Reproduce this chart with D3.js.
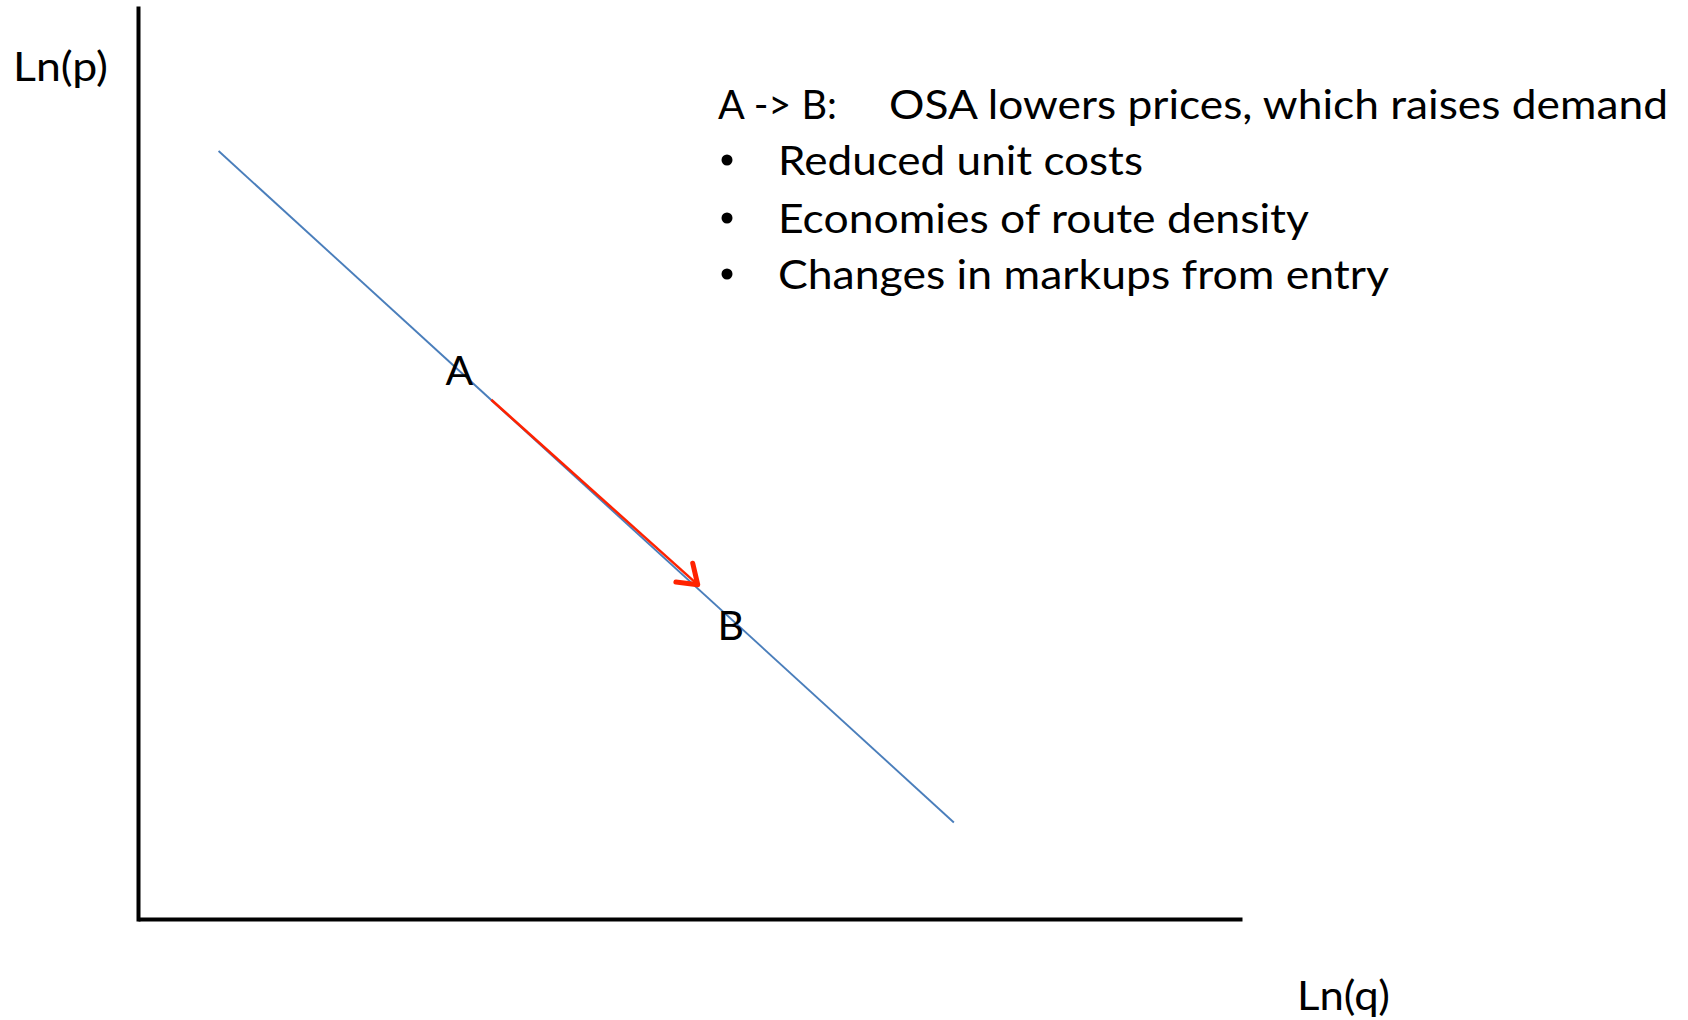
<!DOCTYPE html>
<html>
<head>
<meta charset="utf-8">
<script src="https://cdn.jsdelivr.net/npm/d3@7"></script>
<style>
  html, body { margin: 0; padding: 0; background: #ffffff; }
  svg { display: block; }
  text { font-family: Lato, "Open Sans", sans-serif; fill: #000000; }
</style>
</head>
<body>
<svg id="chart"></svg>
<script>
// values, in axis units (0..10 on both axes)
const demandCurve = [[0.73, 8.43], [7.39, 1.06]];
const movement = [[3.2, 5.7], [5.07, 3.67]];
const pointNames = ["A", "B"];
const pointQ = [2.91, 5.37];
const pointP = [5.86, 3.06];
const axisTitles = ["Ln(q)", "Ln(p)"];
const headerParts = ["A -> B:", "OSA lowers prices, which raises demand"];
const bulletItems = ["Reduced unit costs", "Economies of route density", "Changes in markups from entry"];

const width = 1688;
const height = 1020;
const plot = { left: 138, right: 1242, top: 8, bottom: 919 };

const svg = d3.select("#chart").attr("width", width).attr("height", height);

const x = d3.scaleLinear().domain([0, 10]).range([plot.left, plot.right]);
const y = d3.scaleLinear().domain([0, 10]).range([plot.bottom, plot.top]);

// axes: plain thick lines, no ticks
svg.append("g")
  .attr("transform", `translate(0,${plot.bottom})`)
  .call(d3.axisBottom(x).ticks(0).tickSizeOuter(0))
  .call((g) => g.select(".domain").attr("stroke", "#000").attr("stroke-width", 4));

svg.append("g")
  .attr("transform", `translate(${plot.left},0)`)
  .call(d3.axisLeft(y).ticks(0).tickSizeOuter(0))
  .call((g) => g.select(".domain").attr("stroke", "#000").attr("stroke-width", 4).attr("stroke-linecap", "square"));

const line = d3.line().x((d) => x(d[0])).y((d) => y(d[1]));

svg.append("path")
  .datum(demandCurve)
  .attr("d", line)
  .attr("fill", "none")
  .attr("stroke", "#4a7ebb")
  .attr("stroke-width", 1.9);

// red arrow A -> B
const red = "#ff2200";
svg.append("path")
  .datum(movement)
  .attr("d", line)
  .attr("fill", "none")
  .attr("stroke", red)
  .attr("stroke-width", 2.5);

const [tx, ty] = [x(movement[1][0]), y(movement[1][1])];
const back = Math.atan2(y(movement[0][1]) - ty, x(movement[0][0]) - tx);
const wing = 22;
const spread = (35 * Math.PI) / 180;
const head = d3.path();
head.moveTo(tx + wing * Math.cos(back - spread), ty + wing * Math.sin(back - spread));
head.lineTo(tx, ty);
head.lineTo(tx + wing * Math.cos(back + spread), ty + wing * Math.sin(back + spread));
svg.append("path")
  .attr("d", head.toString())
  .attr("fill", "none")
  .attr("stroke", red)
  .attr("stroke-width", 5)
  .attr("stroke-linecap", "round")
  .attr("stroke-linejoin", "round");

// point labels
svg.append("g")
  .selectAll("text")
  .data(pointNames)
  .join("text")
  .attr("x", (d, i) => x(pointQ[i]))
  .attr("y", (d, i) => y(pointP[i]))
  .attr("text-anchor", "middle")
  .attr("font-size", 41)
  .text((d) => d);

// axis titles
const fitText = (sel, len) => sel.attr("textLength", len).attr("lengthAdjust", "spacingAndGlyphs");

svg.append("text").attr("x", 1297).attr("y", 1010).attr("font-size", 40)
  .text(axisTitles[0]).call(fitText, 93);
svg.append("text").attr("x", 13).attr("y", 81).attr("font-size", 40)
  .text(axisTitles[1]).call(fitText, 95);

// annotation block
const fs = 40;
svg.append("text").attr("x", 718).attr("y", 119).attr("font-size", fs)
  .text(headerParts[0]).call(fitText, 119);
svg.append("text").attr("x", 889).attr("y", 119).attr("font-size", fs)
  .text(headerParts[1]).call(fitText, 779);

const bulletBase = [175, 233, 289];
const bulletWidths = [365, 531, 611];
const bullets = svg.append("g").selectAll("g").data(bulletItems).join("g");
bullets.append("circle")
  .attr("cx", 727)
  .attr("cy", (d, i) => bulletBase[i] - 15)
  .attr("r", 5.5)
  .attr("fill", "#000");
bullets.append("text")
  .attr("x", 778)
  .attr("y", (d, i) => bulletBase[i])
  .attr("font-size", fs)
  .text((d) => d)
  .each(function (d, i) { d3.select(this).call(fitText, bulletWidths[i]); });
</script>
</body>
</html>
